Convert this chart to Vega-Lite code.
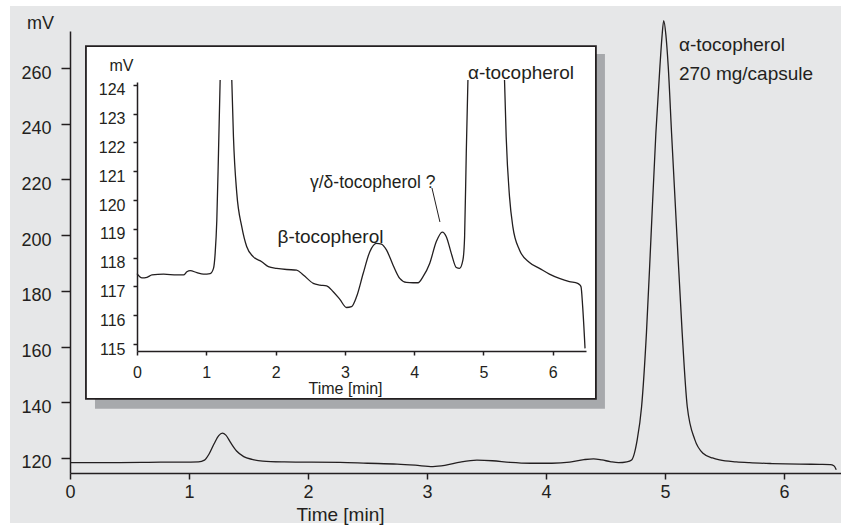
{
  "$schema": "https://vega.github.io/schema/vega-lite/v6.json",
  "width": 771,
  "height": 442,
  "autosize": {"type": "none"},
  "padding": {"left": 70, "top": 31, "right": 0, "bottom": 56},
  "background": "white",
  "config": {
    "view": {"stroke": null},
    "font": "Liberation Sans, Arial, sans-serif",
    "axis": {
      "grid": false,
      "domainColor": "#231f20",
      "tickColor": "#231f20",
      "labelColor": "#231f20",
      "titleColor": "#231f20",
      "domainWidth": 1.5,
      "tickWidth": 1.5,
      "titleFontWeight": "normal",
      "labelFlush": false,
      "labelOverlap": false
    }
  },
  "datasets": {
    "main": [
      {"t": 0, "mV": 118.3}, {"t": 0.3, "mV": 118.3}, {"t": 0.6, "mV": 118.4}, {"t": 0.76, "mV": 118.5},
      {"t": 0.95, "mV": 118.5}, {"t": 1.08, "mV": 118.6}, {"t": 1.13, "mV": 119.2}, {"t": 1.17, "mV": 121.5},
      {"t": 1.21, "mV": 125.0}, {"t": 1.25, "mV": 128.0}, {"t": 1.28, "mV": 128.9}, {"t": 1.31, "mV": 128.2},
      {"t": 1.35, "mV": 125.5}, {"t": 1.4, "mV": 122.5}, {"t": 1.46, "mV": 120.5}, {"t": 1.53, "mV": 119.5},
      {"t": 1.62, "mV": 118.9}, {"t": 1.8, "mV": 118.6}, {"t": 2.0, "mV": 118.5}, {"t": 2.27, "mV": 118.4},
      {"t": 2.5, "mV": 118.1}, {"t": 2.75, "mV": 117.8}, {"t": 2.9, "mV": 117.4}, {"t": 3.05, "mV": 116.9},
      {"t": 3.15, "mV": 117.3}, {"t": 3.28, "mV": 118.5}, {"t": 3.42, "mV": 119.2}, {"t": 3.55, "mV": 119.0},
      {"t": 3.7, "mV": 118.4}, {"t": 3.87, "mV": 118.1}, {"t": 4.05, "mV": 118.1}, {"t": 4.2, "mV": 118.5},
      {"t": 4.32, "mV": 119.4}, {"t": 4.4, "mV": 119.7}, {"t": 4.47, "mV": 119.3}, {"t": 4.54, "mV": 118.7},
      {"t": 4.61, "mV": 118.3}, {"t": 4.68, "mV": 118.6}, {"t": 4.72, "mV": 119.3}, {"t": 4.767, "mV": 126.5},
      {"t": 4.804, "mV": 138.4}, {"t": 4.845, "mV": 165}, {"t": 4.882, "mV": 198.3}, {"t": 4.924, "mV": 236.6},
      {"t": 4.958, "mV": 260.5}, {"t": 4.975, "mV": 271}, {"t": 4.99, "mV": 277}, {"t": 5.008, "mV": 272},
      {"t": 5.028, "mV": 260.5}, {"t": 5.056, "mV": 236.6}, {"t": 5.103, "mV": 198.3}, {"t": 5.145, "mV": 165},
      {"t": 5.188, "mV": 138.4}, {"t": 5.252, "mV": 126.5}, {"t": 5.32, "mV": 121.7}, {"t": 5.4, "mV": 120.0},
      {"t": 5.46, "mV": 119.3}, {"t": 5.6, "mV": 118.6}, {"t": 5.71, "mV": 118.3}, {"t": 5.9, "mV": 118.0},
      {"t": 6.13, "mV": 117.8}, {"t": 6.3, "mV": 117.7}, {"t": 6.39, "mV": 117.6}, {"t": 6.42, "mV": 117.2},
      {"t": 6.44, "mV": 115.8}
    ],
    "mainLabels": [
      {"t": 5.118, "mV": 268.3, "text": "α-tocopherol"},
      {"t": 5.118, "mV": 257.9, "text": "270 mg/capsule"}
    ],
    "inset": [
      {"seg": "a", "t": 0, "mV": 117.45}, {"seg": "a", "t": 0.072, "mV": 117.3}, {"seg": "a", "t": 0.144, "mV": 117.32},
      {"seg": "a", "t": 0.216, "mV": 117.4}, {"seg": "a", "t": 0.384, "mV": 117.43}, {"seg": "a", "t": 0.576, "mV": 117.4},
      {"seg": "a", "t": 0.672, "mV": 117.4}, {"seg": "a", "t": 0.72, "mV": 117.51}, {"seg": "a", "t": 0.768, "mV": 117.55},
      {"seg": "a", "t": 0.864, "mV": 117.48}, {"seg": "a", "t": 0.96, "mV": 117.43}, {"seg": "a", "t": 1.056, "mV": 117.45},
      {"seg": "a", "t": 1.104, "mV": 117.63}, {"seg": "a", "t": 1.128, "mV": 118.15}, {"seg": "a", "t": 1.152, "mV": 119.31},
      {"seg": "a", "t": 1.176, "mV": 121.63}, {"seg": "a", "t": 1.2, "mV": 124.17},
      {"seg": "b", "t": 1.368, "mV": 124.17}, {"seg": "b", "t": 1.392, "mV": 122.2}, {"seg": "b", "t": 1.44, "mV": 120.24},
      {"seg": "b", "t": 1.512, "mV": 119.08}, {"seg": "b", "t": 1.584, "mV": 118.38}, {"seg": "b", "t": 1.68, "mV": 118.03},
      {"seg": "b", "t": 1.8, "mV": 117.86}, {"seg": "b", "t": 1.896, "mV": 117.69}, {"seg": "b", "t": 2.016, "mV": 117.63},
      {"seg": "b", "t": 2.16, "mV": 117.59}, {"seg": "b", "t": 2.304, "mV": 117.57}, {"seg": "b", "t": 2.4, "mV": 117.4},
      {"seg": "b", "t": 2.544, "mV": 117.11}, {"seg": "b", "t": 2.64, "mV": 117.05}, {"seg": "b", "t": 2.736, "mV": 117.02},
      {"seg": "b", "t": 2.832, "mV": 116.82}, {"seg": "b", "t": 2.928, "mV": 116.55}, {"seg": "b", "t": 3.024, "mV": 116.27},
      {"seg": "b", "t": 3.096, "mV": 116.3}, {"seg": "b", "t": 3.168, "mV": 116.64}, {"seg": "b", "t": 3.264, "mV": 117.45},
      {"seg": "b", "t": 3.36, "mV": 118.21}, {"seg": "b", "t": 3.456, "mV": 118.5}, {"seg": "b", "t": 3.528, "mV": 118.47},
      {"seg": "b", "t": 3.6, "mV": 118.27}, {"seg": "b", "t": 3.696, "mV": 117.74}, {"seg": "b", "t": 3.792, "mV": 117.28},
      {"seg": "b", "t": 3.888, "mV": 117.14}, {"seg": "b", "t": 3.984, "mV": 117.13}, {"seg": "b", "t": 4.056, "mV": 117.13},
      {"seg": "b", "t": 4.128, "mV": 117.34}, {"seg": "b", "t": 4.224, "mV": 117.8}, {"seg": "b", "t": 4.32, "mV": 118.56},
      {"seg": "b", "t": 4.406, "mV": 118.89}, {"seg": "b", "t": 4.464, "mV": 118.73}, {"seg": "b", "t": 4.536, "mV": 118.15},
      {"seg": "b", "t": 4.608, "mV": 117.66}, {"seg": "b", "t": 4.656, "mV": 117.63}, {"seg": "b", "t": 4.704, "mV": 117.92},
      {"seg": "b", "t": 4.728, "mV": 118.73}, {"seg": "b", "t": 4.752, "mV": 121.63}, {"seg": "b", "t": 4.776, "mV": 124.17},
      {"seg": "c", "t": 5.304, "mV": 124.17}, {"seg": "c", "t": 5.328, "mV": 122.2}, {"seg": "c", "t": 5.376, "mV": 120.12},
      {"seg": "c", "t": 5.424, "mV": 119.08}, {"seg": "c", "t": 5.52, "mV": 118.27}, {"seg": "c", "t": 5.664, "mV": 117.83},
      {"seg": "c", "t": 5.808, "mV": 117.63}, {"seg": "c", "t": 5.952, "mV": 117.43}, {"seg": "c", "t": 6.096, "mV": 117.28},
      {"seg": "c", "t": 6.24, "mV": 117.17}, {"seg": "c", "t": 6.36, "mV": 117.11}, {"seg": "c", "t": 6.384, "mV": 117.07},
      {"seg": "c", "t": 6.408, "mV": 116.99}, {"seg": "c", "t": 6.432, "mV": 116.3}, {"seg": "c", "t": 6.466, "mV": 114.85}
    ],
    "insetLabels": [
      {"t": 2.027, "mV": 118.72, "text": "β-tocopherol"},
      {"t": 4.776, "mV": 124.42, "text": "α-tocopherol"}
    ],
    "insetQuery": [
      {"t": 2.496, "mV": 120.6, "text": "γ/δ-tocopherol ?"}
    ],
    "leader": [
      {"t": 4.257, "mV": 120.42, "t2": 4.372, "mV2": 119.24}
    ]
  },
  "layer": [
    {
      "layer": [
        {
          "data": {"values": [{}]},
          "mark": {"type": "rect", "fill": "#e6e7e8"},
          "encoding": {
            "x": {"datum": -0.504, "type": "quantitative"},
            "x2": {"datum": 6.48},
            "y": {"datum": 282.3, "type": "quantitative"},
            "y2": {"datum": 96.65}
          }
        },
        {
          "data": {"values": [{}]},
          "mark": {"type": "rect", "fill": "#a7a9ac"},
          "encoding": {
            "x": {"datum": 0.21, "type": "quantitative"},
            "x2": {"datum": 4.496},
            "y": {"datum": 265.0, "type": "quantitative"},
            "y2": {"datum": 137.7}
          }
        },
        {
          "data": {"values": [{}]},
          "mark": {"type": "rect", "fill": "white", "stroke": "#231f20", "strokeWidth": 1.8},
          "encoding": {
            "x": {"datum": 0.134, "type": "quantitative"},
            "x2": {"datum": 4.42},
            "y": {"datum": 267.9, "type": "quantitative"},
            "y2": {"datum": 141.2}
          }
        },
        {
          "data": {"name": "main"},
          "mark": {"type": "line", "color": "#231f20", "strokeWidth": 1.3, "interpolate": "monotone"},
          "encoding": {
            "x": {
              "field": "t", "type": "quantitative",
              "scale": {"domain": [0, 6.48], "nice": false, "zero": false},
              "axis": {
                "orient": "bottom", "zindex": 1, "values": [0, 1, 2, 3, 4, 5, 6], "format": "d", "tickSize": 6,
                "labelFontSize": 18, "labelPadding": 13, "labelBaseline": "middle",
                "title": "Time [min]", "titleFontSize": 19, "titleX": 270, "titleY": 41,
                "titleBaseline": "middle", "titleAlign": "center"
              }
            },
            "y": {
              "field": "mV", "type": "quantitative",
              "scale": {"domain": [114.6, 273.3], "nice": false, "zero": false},
              "axis": {
                "orient": "left", "zindex": 1, "values": [120, 140, 160, 180, 200, 220, 240, 260], "tickSize": 9,
                "labelFontSize": 18, "labelPadding": 10, "labelOffset": 5, "labelBaseline": "middle",
                "title": "mV", "titleFontSize": 18, "titleAngle": 0, "titleX": -30, "titleY": -8,
                "titleAlign": "center", "titleBaseline": "middle"
              }
            }
          }
        },
        {
          "data": {"name": "mainLabels"},
          "mark": {"type": "text", "align": "left", "baseline": "middle", "fontSize": 19, "color": "#231f20"},
          "encoding": {
            "x": {"field": "t", "type": "quantitative"},
            "y": {"field": "mV", "type": "quantitative"},
            "text": {"field": "text"}
          }
        }
      ]
    },
    {
      "layer": [
        {
          "data": {"name": "inset"},
          "mark": {"type": "line", "color": "#231f20", "strokeWidth": 1.3, "interpolate": "monotone"},
          "encoding": {
            "x": {
              "field": "t", "type": "quantitative",
              "scale": {"domain": [0, 6.48], "range": [67, 516], "nice": false, "zero": false},
              "axis": {
                "orient": "bottom", "zindex": 1, "offset": -122, "values": [0, 1, 2, 3, 4, 5, 6], "format": "d", "tickSize": 4,
                "labelFontSize": 16, "labelPadding": 17, "labelBaseline": "middle",
                "title": "Time [min]", "titleFontSize": 16, "titleX": 275, "titleY": 37,
                "titleBaseline": "middle", "titleAlign": "center"
              }
            },
            "y": {
              "field": "mV", "type": "quantitative",
              "scale": {"domain": [114.76, 124.1], "range": [320, 51], "nice": false, "zero": false},
              "axis": {
                "orient": "left", "zindex": 1, "offset": -67, "values": [115, 116, 117, 118, 119, 120, 121, 122, 123, 124],
                "tickSize": 4, "labelFontSize": 16, "labelPadding": 8, "labelOffset": 5, "labelBaseline": "middle",
                "title": "mV", "titleFontSize": 16, "titleAngle": 0, "titleX": -16, "titleY": 34,
                "titleAlign": "center", "titleBaseline": "middle"
              }
            },
            "detail": {"field": "seg"}
          }
        },
        {
          "data": {"name": "insetLabels"},
          "mark": {"type": "text", "align": "left", "baseline": "middle", "fontSize": 19, "color": "#231f20"},
          "encoding": {
            "x": {"field": "t", "type": "quantitative"},
            "y": {"field": "mV", "type": "quantitative"},
            "text": {"field": "text"}
          }
        },
        {
          "data": {"name": "insetQuery"},
          "mark": {"type": "text", "align": "left", "baseline": "middle", "fontSize": 17.5, "color": "#231f20"},
          "encoding": {
            "x": {"field": "t", "type": "quantitative"},
            "y": {"field": "mV", "type": "quantitative"},
            "text": {"field": "text"}
          }
        },
        {
          "data": {"name": "leader"},
          "mark": {"type": "rule", "color": "#231f20", "strokeWidth": 1},
          "encoding": {
            "x": {"field": "t", "type": "quantitative"},
            "y": {"field": "mV", "type": "quantitative"},
            "x2": {"field": "t2"},
            "y2": {"field": "mV2"}
          }
        }
      ]
    }
  ],
  "resolve": {
    "scale": {"x": "independent", "y": "independent"},
    "axis": {"x": "independent", "y": "independent"}
  }
}
